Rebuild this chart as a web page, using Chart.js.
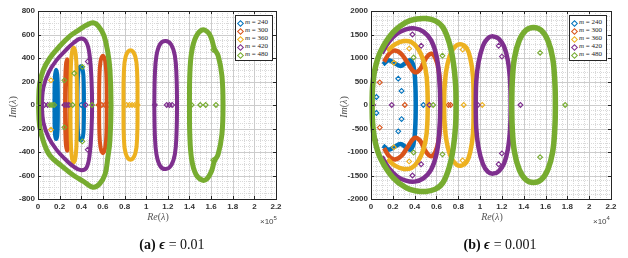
<!DOCTYPE html>
<html lang="en">
<head>
<meta charset="UTF-8">
<script src="https://cdn.jsdelivr.net/npm/chart.js"></script>
<title>Eigenvalue spectra</title>
<style>
  body { margin:0; background:#fff; width:628px; height:258px; position:relative; overflow:hidden; }
  canvas { position:absolute; top:0; }
  .t { position:absolute; white-space:nowrap; transform:translate(-50%,-50%); }
  .axt { color:#555; font-family:"Liberation Serif", "DejaVu Serif", serif; font-size:10px; }
  .rot { transform:translate(-50%,-50%) rotate(-90deg); }
  .exp { position:absolute; color:#444; font-family:"Liberation Sans", sans-serif; font-size:8px; white-space:nowrap; }
  .exp sup { font-size:6px; }
  .cap { font-family:"Liberation Serif", "DejaVu Serif", serif; font-size:14px; color:#111; }
  .legend { position:absolute; width:36px; height:44px; border:1px solid #262626; background:#fff; }
  .row { position:absolute; left:0; height:8px; width:36px; }
  .mk { position:absolute; left:2px; top:1.5px; width:3px; height:3px; border:1.2px solid; transform:rotate(45deg); }
  .lt { position:absolute; left:9px; top:-1px; font-family:"Liberation Serif", serif; font-size:7px; color:#222; }
</style>
</head>
<body>
<canvas id="chartA" width="310" height="258" style="left:0"></canvas>
<canvas id="chartB" width="318" height="258" style="left:310px"></canvas>

<div class="t axt rot" style="left:12px; top:107px"><i>Im</i>(<i>λ</i>)</div>
<div class="t axt" style="left:158px; top:216px"><i>Re</i>(<i>λ</i>)</div>
<div class="exp" style="left:260px; top:215px">×10<sup>5</sup></div>
<div class="t cap" style="left:172px; top:245px"><b>(a)</b> <b><i>ϵ</i></b> = 0.01</div>

<div class="t axt rot" style="left:343px; top:107px"><i>Im</i>(<i>λ</i>)</div>
<div class="t axt" style="left:492px; top:216px"><i>Re</i>(<i>λ</i>)</div>
<div class="exp" style="left:593px; top:215px">×10<sup>4</sup></div>
<div class="t cap" style="left:500px; top:245px"><b>(b)</b> <b><i>ϵ</i></b> = 0.001</div>

<div class="legend" id="legA" style="left:235px; top:15px"></div>
<div class="legend" id="legB" style="left:569px; top:15px"></div>

<script>
// tick labels
const ticksX = [0, 0.2, 0.4, 0.6, 0.8, 1, 1.2, 1.4, 1.6, 1.8, 2, 2.2];
const ticksYA = [-800, -600, -400, -200, 0, 200, 400, 600, 800];
const ticksYB = [-2000, -1500, -1000, -500, 0, 500, 1000, 1500, 2000];
const seriesNames = ['240', '300', '360', '420', '480'];

// (a) eps = 0.01, Re in units of 1e5
const aCurves240 = [
  [[0.152,0],[0.153,160],[0.158,260],[0.168,300],[0.178,260],[0.183,160],[0.184,0],[0.183,-160],[0.178,-260],[0.168,-290],[0.158,-260],[0.153,-160],[0.152,0]],
  [[0.365,0],[0.367,180],[0.375,290],[0.395,330],[0.415,290],[0.423,180],[0.425,0],[0.423,-180],[0.415,-270],[0.395,-300],[0.375,-270],[0.367,-180],[0.365,0]]
];
const aCurves300 = [
  [[0.25,0],[0.252,200],[0.258,340],[0.27,390],[0.282,340],[0.288,200],[0.29,0],[0.288,-200],[0.282,-340],[0.27,-390],[0.258,-340],[0.252,-200],[0.25,0]],
  [[0.565,0],[0.567,220],[0.578,370],[0.60,420],[0.622,370],[0.633,220],[0.635,0],[0.633,-220],[0.622,-360],[0.60,-410],[0.578,-360],[0.567,-220],[0.565,0]]
];
const aCurves360 = [
  [[0.30,0],[0.302,250],[0.311,430],[0.33,490],[0.349,430],[0.358,250],[0.36,0],[0.358,-250],[0.349,-430],[0.33,-490],[0.311,-430],[0.302,-250],[0.30,0]],
  [[0.79,0],[0.793,260],[0.81,410],[0.855,465],[0.90,410],[0.917,260],[0.92,0],[0.917,-260],[0.90,-410],[0.855,-465],[0.81,-410],[0.793,-260],[0.79,0]]
];
const aCurves420 = [
  [[0.035,0],[0.05,150],[0.1,280],[0.17,380],[0.25,460],[0.33,530],[0.40,565],[0.45,530],[0.48,400],[0.495,200],[0.50,0],[0.495,-200],[0.48,-400],[0.45,-530],[0.40,-555],[0.33,-525],[0.25,-460],[0.17,-380],[0.1,-280],[0.05,-150],[0.035,0]],
  [[1.075,0],[1.08,250],[1.095,420],[1.13,520],[1.18,545],[1.23,515],[1.265,420],[1.28,250],[1.285,0],[1.28,-250],[1.265,-420],[1.23,-515],[1.18,-545],[1.13,-520],[1.095,-420],[1.08,-250],[1.075,0]]
];
const aCurves480 = [
  [[0.005,0],[0.015,180],[0.05,300],[0.11,400],[0.2,500],[0.3,590],[0.38,640],[0.45,680],[0.51,700],[0.56,670],[0.61,590],[0.645,450],[0.665,300],[0.675,0],[0.665,-300],[0.645,-450],[0.62,-590],[0.57,-670],[0.51,-700],[0.42,-650],[0.33,-600],[0.22,-520],[0.11,-430],[0.05,-310],[0.015,-180],[0.005,0]],
  [[1.40,0],[1.403,250],[1.42,450],[1.46,580],[1.52,640],[1.575,615],[1.605,560],[1.63,480],[1.665,420],[1.70,250],[1.71,0],[1.70,-250],[1.665,-420],[1.63,-480],[1.605,-560],[1.565,-625],[1.52,-640],[1.46,-590],[1.42,-460],[1.403,-250],[1.40,0]]
];
const aDots240 = [[0.17,0],[0.36,0],[0.40,0]];
const aDots300 = [[0.28,0],[0.56,0],[0.59,0],[0.62,0],[0.65,0]];
const aDots360 = [[0.12,210],[0.12,-210],[0.82,0],[0.845,0],[0.87,0],[0.895,0],[0.92,0]];
const aDots420 = [[0.03,0],[0.06,0],[0.09,0],[0.245,0],[0.265,0],[0.285,0],[0.44,0],[0.46,370],[0.46,-380],[1.08,0],[1.19,0],[1.215,0],[1.24,0]];
const aDots480 = [[0.11,0],[0.13,0],[0.15,0],[0.32,0],[0.5,0],[0.243,210],[0.243,-190],[0.41,325],[0.41,-310],[0.335,270],[1.42,0],[1.50,0],[1.55,0],[1.645,0],[1.62,470],[1.62,-470]];

// (b) eps = 0.001, Re in units of 1e4
const bCurves240 = [
  [[0.11,860],[0.16,950],[0.21,900],[0.27,830],[0.32,900],[0.36,950],[0.39,820],[0.405,500],[0.41,0],[0.405,-500],[0.39,-820],[0.36,-950],[0.32,-900],[0.27,-830],[0.21,-900],[0.16,-950],[0.11,-860]]
];
const bCurves300 = [
  [[0.12,920],[0.17,1100],[0.22,1160],[0.28,1080],[0.34,880],[0.40,700],[0.45,760],[0.50,980],[0.55,1090],[0.59,1000],[0.62,750],[0.635,400],[0.64,0],[0.635,-400],[0.62,-750],[0.59,-1000],[0.55,-1090],[0.50,-980],[0.45,-760],[0.40,-700],[0.34,-880],[0.28,-1080],[0.22,-1160],[0.17,-1100],[0.12,-920]]
];
const bCurves360 = [
  [[0.15,1150],[0.22,1290],[0.30,1360],[0.37,1340],[0.43,1200],[0.48,950],[0.51,600],[0.52,0],[0.51,-600],[0.48,-950],[0.43,-1200],[0.37,-1340],[0.30,-1360],[0.22,-1290],[0.15,-1150]],
  [[0.67,0],[0.675,400],[0.695,800],[0.735,1120],[0.785,1270],[0.83,1290],[0.875,1220],[0.91,1000],[0.935,600],[0.94,0],[0.935,-600],[0.91,-1000],[0.875,-1220],[0.83,-1290],[0.785,-1270],[0.735,-1120],[0.695,-800],[0.675,-400],[0.67,0]]
];
const bCurves420 = [
  [[0.10,1100],[0.16,1330],[0.24,1520],[0.32,1610],[0.40,1630],[0.48,1560],[0.55,1380],[0.60,1050],[0.625,600],[0.635,0],[0.625,-600],[0.60,-1050],[0.55,-1380],[0.48,-1560],[0.40,-1630],[0.32,-1610],[0.24,-1520],[0.16,-1330],[0.10,-1100]],
  [[0.96,0],[0.965,500],[0.985,900],[1.025,1250],[1.07,1420],[1.12,1460],[1.17,1410],[1.22,1240],[1.255,940],[1.275,500],[1.28,0],[1.275,-500],[1.255,-940],[1.22,-1240],[1.17,-1410],[1.12,-1460],[1.07,-1420],[1.025,-1250],[0.985,-900],[0.965,-500],[0.96,0]]
];
const bCurves480 = [
  [[0.01,0],[0.015,400],[0.04,800],[0.09,1150],[0.2,1540],[0.32,1760],[0.42,1830],[0.5,1840],[0.59,1790],[0.66,1650],[0.72,1300],[0.755,900],[0.775,450],[0.78,0],[0.775,-450],[0.755,-900],[0.72,-1300],[0.66,-1650],[0.59,-1790],[0.5,-1840],[0.42,-1830],[0.32,-1760],[0.2,-1540],[0.09,-1150],[0.04,-800],[0.015,-400],[0.01,0]],
  [[1.29,0],[1.295,500],[1.315,1000],[1.36,1380],[1.42,1590],[1.49,1650],[1.56,1590],[1.62,1380],[1.665,1000],[1.685,500],[1.69,0],[1.685,-500],[1.665,-1000],[1.62,-1380],[1.56,-1590],[1.49,-1650],[1.42,-1590],[1.36,-1380],[1.315,-1000],[1.295,-500],[1.29,0]]
];
const bDots240 = [[0.05,170],[0.05,-170],[0.25,560],[0.25,-560],[0.28,300],[0.28,-300],[0.48,0]];
const bDots300 = [[0.08,480],[0.08,-480],[0.31,0],[0.71,0],[0.73,0]];
const bDots360 = [[0.21,900],[0.21,-900],[0.35,1200],[0.35,-1200],[0.85,0],[1.02,0],[0.84,1180],[0.84,-1180]];
const bDots420 = [[0.02,0],[0.04,750],[0.04,-750],[0.19,0],[0.38,1500],[0.38,-1500],[0.46,1260],[0.46,-1260],[0.535,0],[0.98,0],[1.17,1260],[1.17,-1260],[1.20,1030],[1.20,-1030],[1.37,0]];
const bDots480 = [[0.39,1010],[0.39,-1010],[0.57,0],[0.655,1050],[0.655,-1050],[1.55,1110],[1.55,-1110],[1.78,0]];

const colors = ['#0072BD', '#D95319', '#EDB120', '#7E2F8E', '#77AC30'];

function makeDatasets(curves, dots, widths) {
  const out = [];
  for (let s = 0; s < 5; s++) {
    curves[s].forEach(c => out.push({
      data: c, showLine: true, borderColor: colors[s], borderWidth: widths[s],
      pointRadius: 0, tension: 0.4, fill: false, order: (5 - s) * 10 + 1, clip: 4
    }));
    out.push({
      data: dots[s], showLine: false, pointStyle: 'rectRot', pointRadius: 2.4,
      pointBorderWidth: 1.1, borderColor: colors[s], backgroundColor: 'rgba(0,0,0,0)',
      order: (5 - s) * 10, clip: 4
    });
  }
  return out;
}

// matlab style grid, box and inner tick marks
const matGrid = {
  id: 'matGrid',
  beforeDatasetsDraw(chart, args, o) {
    const { ctx, chartArea: a, scales: { x, y } } = chart;
    ctx.save();
    ctx.lineWidth = 1;
    ctx.strokeStyle = '#d9d9d9';
    ctx.setLineDash([1, 1]);
    ctx.beginPath();
    for (let v = x.min; v <= x.max + 1e-9; v += o.xMinor) {
      const p = Math.round(x.getPixelForValue(v)) + 0.5;
      ctx.moveTo(p, a.top); ctx.lineTo(p, a.bottom);
    }
    for (let v = y.min; v <= y.max + 1e-9; v += o.yMinor) {
      const p = Math.round(y.getPixelForValue(v)) + 0.5;
      ctx.moveTo(a.left, p); ctx.lineTo(a.right, p);
    }
    ctx.stroke();
    ctx.setLineDash([]);
    ctx.strokeStyle = '#cccccc';
    ctx.beginPath();
    o.xMajor.forEach(v => {
      const p = Math.round(x.getPixelForValue(v)) + 0.5;
      ctx.moveTo(p, a.top); ctx.lineTo(p, a.bottom);
    });
    o.yMajor.forEach(v => {
      const p = Math.round(y.getPixelForValue(v)) + 0.5;
      ctx.moveTo(a.left, p); ctx.lineTo(a.right, p);
    });
    ctx.stroke();
    ctx.restore();
  },
  afterDatasetsDraw(chart, args, o) {
    const { ctx, chartArea: a, scales: { x, y } } = chart;
    ctx.save();
    ctx.strokeStyle = '#262626';
    ctx.lineWidth = 1;
    ctx.beginPath();
    o.xMajor.forEach(v => {
      const p = Math.round(x.getPixelForValue(v)) + 0.5;
      ctx.moveTo(p, a.bottom); ctx.lineTo(p, a.bottom - 3);
      ctx.moveTo(p, a.top); ctx.lineTo(p, a.top + 3);
    });
    o.yMajor.forEach(v => {
      const p = Math.round(y.getPixelForValue(v)) + 0.5;
      ctx.moveTo(a.left, p); ctx.lineTo(a.left + 3, p);
      ctx.moveTo(a.right, p); ctx.lineTo(a.right - 3, p);
    });
    ctx.stroke();
    ctx.strokeRect(Math.round(a.left) + 0.5, Math.round(a.top) + 0.5,
      Math.round(a.right - a.left), Math.round(a.bottom - a.top));
    ctx.restore();
  }
};

function makeChart(id, datasets, yTicks, yMinor, padLeft, padRight) {
  const tickFont = { family: 'Liberation Sans', size: 8, weight: 'bold' };
  return new Chart(document.getElementById(id), {
    type: 'scatter',
    data: { datasets: datasets },
    options: {
      responsive: false,
      animation: false,
      events: [],
      layout: { padding: { left: padLeft, right: padRight, top: 11, bottom: 39 } },
      plugins: {
        legend: { display: false },
        tooltip: { enabled: false },
        matGrid: { xMinor: 0.05, yMinor: yMinor, xMajor: ticksX, yMajor: yTicks }
      },
      scales: {
        x: {
          type: 'linear', min: 0, max: 2.2,
          grid: { display: false, drawTicks: false },
          border: { display: false },
          afterBuildTicks: s => { s.ticks = ticksX.map(v => ({ value: v })); },
          afterFit: s => { s.height = 20; },
          ticks: { font: tickFont, color: '#333', padding: 3, autoSkip: false, maxRotation: 0,
                   callback: v => String(v) }
        },
        y: {
          type: 'linear', min: yTicks[0], max: yTicks[yTicks.length - 1],
          grid: { display: false, drawTicks: false },
          border: { display: false },
          afterBuildTicks: s => { s.ticks = yTicks.map(v => ({ value: v })); },
          afterFit: s => { s.width = 38; },
          ticks: { font: tickFont, color: '#333', padding: 3, autoSkip: false,
                   callback: v => String(v) }
        }
      }
    },
    plugins: [matGrid]
  });
}

makeChart('chartA',
  makeDatasets([aCurves240, aCurves300, aCurves360, aCurves420, aCurves480],
               [aDots240, aDots300, aDots360, aDots420, aDots480], [4, 4, 4, 4, 5]),
  ticksYA, 50, 0, 34);

makeChart('chartB',
  makeDatasets([bCurves240, bCurves300, bCurves360, bCurves420, bCurves480],
               [bDots240, bDots300, bDots360, bDots420, bDots480], [4.5, 4.5, 4.5, 4.5, 5.5]),
  ticksYB, 100, 23, 17);

// legends
['legA', 'legB'].forEach(id => {
  const box = document.getElementById(id);
  seriesNames.forEach((n, i) => {
    const row = document.createElement('div');
    row.className = 'row';
    row.style.top = (3 + i * 8) + 'px';
    row.innerHTML = '<span class="mk" style="border-color:' + colors[i] + '"></span>' +
      '<span class="lt"><i>m</i> = ' + n + '</span>';
    box.appendChild(row);
  });
});
</script>
</body>
</html>
